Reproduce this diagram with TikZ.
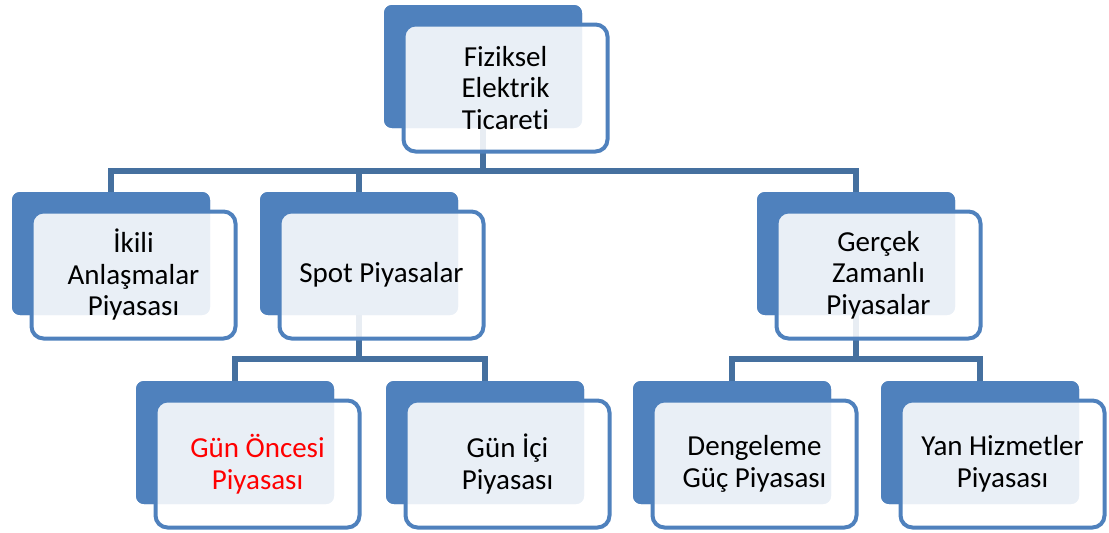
\documentclass[tikz,border=0pt]{standalone}
\usepackage{fontspec}
\setmainfont{Carlito}[Ligatures=NoCommon,RawFeature={-liga}]
\definecolor{sablue}{HTML}{4F81BD}
\definecolor{conblue}{HTML}{45709F}
\tikzset{
  backbox/.style={fill=sablue, rounded corners=8pt, minimum width=198pt, minimum height=123pt, inner sep=0pt, outer sep=0pt},
  frontbox/.style={draw=sablue, line width=4pt, fill=white, fill opacity=0.88, text opacity=1, rounded corners=12pt, minimum width=204pt, minimum height=127pt, inner sep=0pt, outer sep=0pt, align=center, font=\fontsize{29}{31.5}\selectfont},
  conn/.style={draw=conblue, line width=5.5pt, line cap=butt, line join=miter}
}
\begin{document}
\begin{tikzpicture}[x=1pt,y=-1pt]
\useasboundingbox (0,0) rectangle (1109,533);
% back boxes
\node[backbox] (b0) at (483,66.5) {};
\node[backbox] (b1) at (111,253.5) {};
\node[backbox] (b2) at (359,253.5) {};
\node[backbox] (b3) at (856,253.5) {};
\node[backbox] (b4) at (235,442.5) {};
\node[backbox] (b5) at (485,442.5) {};
\node[backbox] (b6) at (732,442.5) {};
\node[backbox] (b7) at (980,442.5) {};
% connector junctions
\coordinate (j0) at (483,171);
\coordinate (j2) at (359,359);
\coordinate (j3) at (856,359);
% connectors
\draw[conn] (b0.south) -- (j0);
\draw[conn] ([yshift=-5pt]b1.north) |- (j0) -| ([yshift=-5pt]b3.north);
\draw[conn] (j0 -| b2.north) -- ([yshift=-5pt]b2.north);
\draw[conn] (b2.south) -- (j2);
\draw[conn] ([yshift=-6pt]b4.north) |- (j2) -| ([yshift=-6pt]b5.north);
\draw[conn] (b3.south) -- (j3);
\draw[conn] ([yshift=-6pt]b6.north) |- (j3) -| ([yshift=-6pt]b7.north);
% redraw back boxes above connectors
\foreach \n in {b0,b1,b2,b3,b4,b5,b6,b7} {\fill[sablue, rounded corners=8pt] (\n.north west) rectangle (\n.south east);}
% front boxes
\node[frontbox] (f0) at ([shift={(22.5,21.5)}]b0.center) {Fiziksel\\Elektrik\\Ticareti};
\node[frontbox] (f1) at ([shift={(22.5,21.5)}]b1.center) {İkili\\Anlaşmalar\\Piyasası};
\node[frontbox] (f2) at ([shift={(22.5,21.5)}]b2.center) {Spot Piyasalar};
\node[frontbox] (f3) at ([shift={(22.5,21.5)}]b3.center) {Gerçek\\Zamanlı\\Piyasalar};
\node[frontbox, text=red] (f4) at ([shift={(22.5,21.5)}]b4.center) {Gün Öncesi\\Piyasası};
\node[frontbox] (f5) at ([shift={(22.5,21.5)}]b5.center) {Gün İçi\\Piyasası};
\node[frontbox] (f6) at ([shift={(22.5,21.5)}]b6.center) {Dengeleme\\Güç Piyasası};
\node[frontbox] (f7) at ([shift={(22.5,21.5)}]b7.center) {Yan Hizmetler\\Piyasası};
\end{tikzpicture}
\end{document}
